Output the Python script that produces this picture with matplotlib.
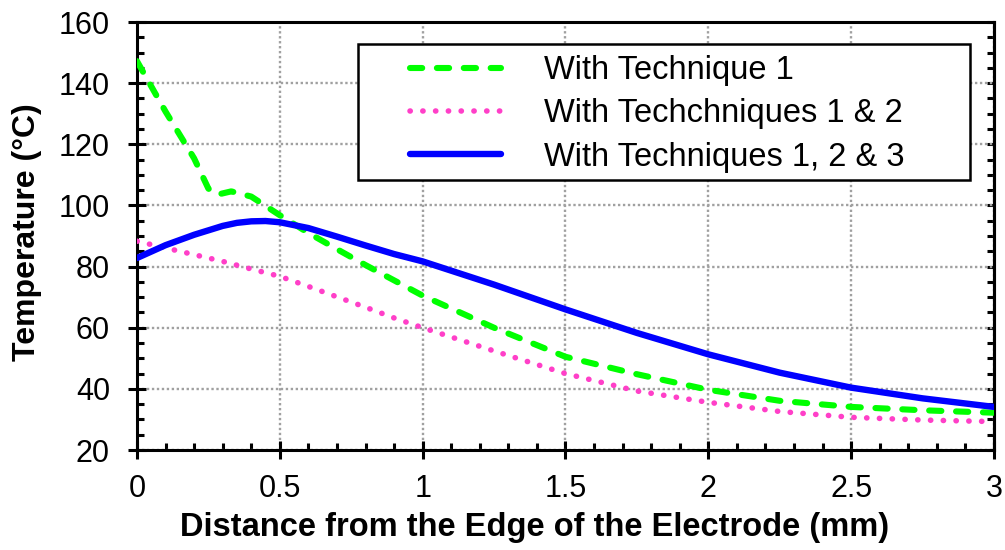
import matplotlib
matplotlib.use('Agg')
import matplotlib.pyplot as plt
from matplotlib.patches import Rectangle
from matplotlib.ticker import MultipleLocator

plt.rcParams['font.family'] = ['Liberation Sans', 'DejaVu Sans']

# Technique 1 (green dashed)
x_t1 = [0, 0.1, 0.2, 0.25, 0.28, 0.33, 0.4, 0.5, 0.6, 0.7, 0.8, 0.9, 1.0,
        1.25, 1.5, 1.75, 2.0, 2.25, 2.5, 2.75, 3.0]
y_t1 = [147.2, 130.7, 115.4, 105.5, 103.5, 104.6, 102.9, 96.8, 91.0, 85.7, 80.5, 75.5, 70.5,
        60.0, 50.5, 44.8, 39.7, 36.1, 34.1, 33.0, 32.2]

# Techniques 1 & 2 (pink dotted)
x_t12 = [0, 0.1, 0.2, 0.3, 0.4, 0.5, 0.6, 0.7, 0.8, 0.9, 1.0,
         1.25, 1.5, 1.75, 2.0, 2.25, 2.5, 2.75, 3.0]
y_t12 = [88.3, 86.1, 83.9, 81.7, 79.2, 76.8, 73.5, 70.1, 66.7, 63.2, 60.0,
         52.4, 45.0, 39.3, 35.6, 32.6, 30.7, 29.8, 29.3]

# Techniques 1, 2 & 3 (blue solid)
x_t123 = [0, 0.1, 0.2, 0.3, 0.35, 0.4, 0.45, 0.5, 0.6, 0.7, 0.8, 0.9, 1.0,
          1.25, 1.5, 1.75, 2.0, 2.25, 2.5, 2.75, 3.0]
y_t123 = [82.8, 87.0, 90.4, 93.3, 94.3, 94.8, 94.9, 94.5, 92.6, 89.8, 86.9, 84.1, 81.7,
          74.1, 66.0, 58.3, 51.3, 45.3, 40.4, 36.9, 34.1]

labels = ['With Technique 1', 'With Techchniques 1 & 2', 'With Techniques 1, 2 & 3']

fig = plt.figure(figsize=(10.05, 5.5), dpi=100)
ax = fig.add_axes([0.1363, 0.1818, 0.8527, 0.7782])

ax.plot(x_t1, y_t1, color='#00ff00', lw=4.4, dashes=(2.0, 2.4),
        dash_capstyle='round', label=labels[0], zorder=3)
ax.plot(x_t12, y_t12, color='#ff3fc8', lw=4.0, dashes=(0.05, 2.25),
        dash_capstyle='round', label=labels[1], zorder=3)
ax.plot(x_t123, y_t123, color='#0000ff', lw=4.6, solid_capstyle='round',
        solid_joinstyle='round', label=labels[2], zorder=4)

ax.set_xlim(0, 3)
ax.set_ylim(20, 160)
ax.xaxis.set_minor_locator(MultipleLocator(0.1))
ax.yaxis.set_major_locator(MultipleLocator(20))
ax.yaxis.set_minor_locator(MultipleLocator(5))
ax.set_xticks([0, 0.5, 1, 1.5, 2, 2.5, 3])
ax.set_xticklabels(['0', '0.5', '1', '1.5', '2', '2.5', '3'])

ax.grid(True, which='major', color='#a0a0a0', lw=1.7, linestyle=(0, (1, 1.1)))
ax.set_axisbelow(True)

for s in ax.spines.values():
    s.set_linewidth(2.2)

ax.tick_params(which='major', direction='inout', length=13, width=2.2, labelsize=22)
ax.tick_params(which='minor', direction='in', length=5, width=2.2)
ax.tick_params(axis='x', which='major', pad=11)
ax.tick_params(axis='y', which='major', pad=13)

# right side ticks point inward only
sec = ax.secondary_yaxis('right')
sec.yaxis.set_major_locator(MultipleLocator(20))
sec.yaxis.set_minor_locator(MultipleLocator(5))
sec.tick_params(which='both', direction='in', length=5, width=2.2, labelright=False)
sec.spines['right'].set_linewidth(2.2)

ax.set_xlabel('Distance from the Edge of the Electrode (mm)', fontsize=23.5,
              fontweight='bold')
ax.xaxis.set_label_coords(0.4638, -0.182)
ax.xaxis.label.set_verticalalignment('center')
ax.set_ylabel('Temperature (°C)', fontsize=23, fontweight='bold')
ax.yaxis.set_label_coords(-0.128, 0.509)
ax.yaxis.label.set_verticalalignment('center')

# legend frame drawn separately so the entries sit inset like the original
frame = Rectangle((0.258, 0.631), 0.714, 0.3176, transform=ax.transAxes,
                  facecolor='white', edgecolor='black', lw=1.8, zorder=5)
ax.add_patch(frame)
leg = ax.legend(loc='upper left', bbox_to_anchor=(0.3186, 0.923),
                fontsize=23.5, handlelength=2.8, handletextpad=1.3,
                borderpad=0, labelspacing=0.38, frameon=False, borderaxespad=0)
leg.set_zorder(6)

plt.savefig('out.png', dpi=100)
